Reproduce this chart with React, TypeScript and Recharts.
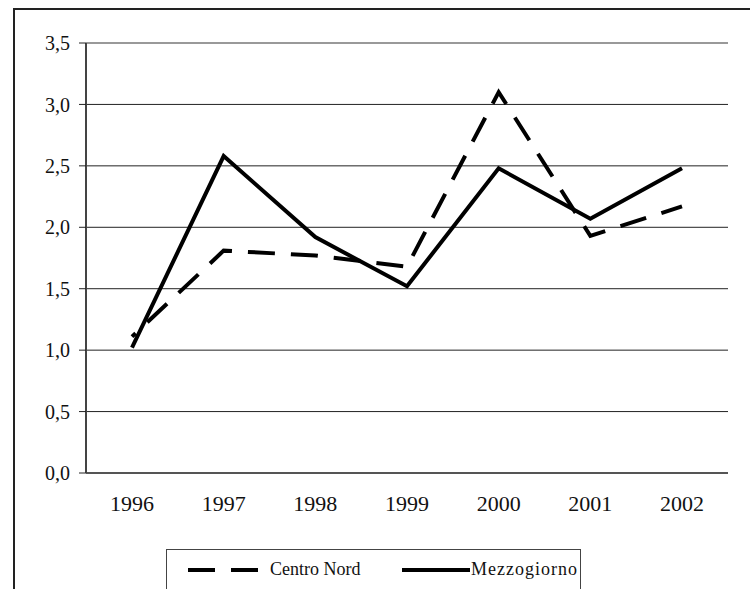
import React from "react";
import {
  CartesianGrid,
  Line,
  LineChart,
  ReferenceLine,
  XAxis,
  YAxis,
} from "recharts";

const years = ["1996", "1997", "1998", "1999", "2000", "2001", "2002"];
const centroNord = [1.11, 1.81, 1.77, 1.68, 3.1, 1.93, 2.17];
const mezzogiorno = [1.02, 2.58, 1.92, 1.52, 2.48, 2.07, 2.48];
const yTicks = [0, 0.5, 1, 1.5, 2, 2.5, 3, 3.5];

const data = years.map((year, i) => ({
  year,
  centroNord: centroNord[i],
  mezzogiorno: mezzogiorno[i],
}));

const FONT = "'Times New Roman', Times, 'Liberation Serif', 'Noto Serif', 'DejaVu Serif', serif";
const DASH = "27 16";

/** Italian-style decimal comma for the y axis. */
const fmt = (v: number) => v.toFixed(1).replace(".", ",");

function LegendBox() {
  return (
    <div
      style={{
        position: "absolute",
        left: 166,
        top: 549,
        width: 413,
        height: 60,
        border: "1.5px solid #444",
        fontFamily: FONT,
        fontSize: 18,
        color: "#111",
      }}
    >
      <svg width={413} height={40} style={{ position: "absolute", left: 0, top: 0 }}>
        <line x1={21} y1={20} x2={94} y2={20} stroke="#000" strokeWidth={4} strokeDasharray={DASH} />
        <line x1={235} y1={20} x2={303} y2={20} stroke="#000" strokeWidth={4} />
      </svg>
      <span style={{ position: "absolute", left: 103, top: 8, lineHeight: "22px" }}>Centro Nord</span>
      <span style={{ position: "absolute", left: 304, top: 8, lineHeight: "22px", letterSpacing: 1 }}>
        Mezzogiorno
      </span>
    </div>
  );
}

export default function App() {
  return (
    <div
      style={{
        position: "fixed",
        left: 0,
        top: 0,
        width: 750,
        height: 589,
        overflow: "hidden",
        background: "#fff",
      }}
    >
      <div
        style={{
          position: "absolute",
          left: 13,
          top: 8,
          width: 800,
          height: 700,
          border: "2px solid #222",
        }}
      />
      <div style={{ position: "absolute", left: 0, top: 0 }}>
        <LineChart
          width={750}
          height={589}
          data={data}
          margin={{ top: 43, right: 22, bottom: 76, left: 26 }}
        >
          <CartesianGrid vertical={false} stroke="#222" strokeWidth={1} />
          <ReferenceLine y={3.5} stroke="#999" strokeWidth={2} />
          <XAxis
            dataKey="year"
            tickLine={false}
            tickSize={0}
            tickMargin={22}
            height={40}
            padding={{ left: 46, right: 46 }}
            interval={0}
            axisLine={{ stroke: "#555", strokeWidth: 2 }}
            tick={{ fontFamily: FONT, fontSize: 22, fill: "#111" }}
          />
          <YAxis
            domain={[0, 3.5]}
            ticks={yTicks}
            tickFormatter={fmt}
            width={60}
            tickSize={7}
            tickMargin={9}
            interval={0}
            axisLine={{ stroke: "#444", strokeWidth: 2 }}
            tickLine={{ stroke: "#222" }}
            tick={{ fontFamily: FONT, fontSize: 20, fill: "#111" }}
          />
          <YAxis
            yAxisId="right"
            orientation="right"
            domain={[0, 3.5]}
            width={0}
            tick={false}
            tickLine={false}
            axisLine={{ stroke: "#999", strokeWidth: 2 }}
          />
          <Line
            type="linear"
            dataKey="centroNord"
            stroke="#000"
            strokeWidth={4}
            strokeDasharray={DASH}
            strokeDashoffset={22}
            strokeLinejoin="miter"
            dot={false}
            isAnimationActive={false}
          />
          <Line
            type="linear"
            dataKey="mezzogiorno"
            stroke="#000"
            strokeWidth={4}
            strokeLinejoin="miter"
            dot={false}
            isAnimationActive={false}
          />
        </LineChart>
      </div>
      <LegendBox />
    </div>
  );
}
